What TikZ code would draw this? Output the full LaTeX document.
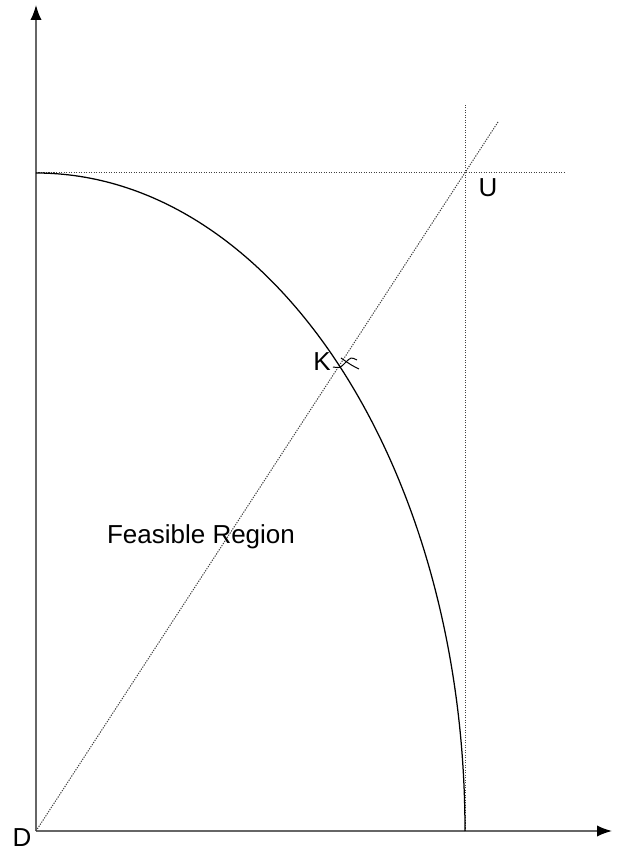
\documentclass[tikz,border=0pt]{standalone}
\usepackage{fontspec}
\setmainfont{Liberation Sans}
\usetikzlibrary{arrows.meta}

\begin{document}
\begin{tikzpicture}[x=0.4pt,y=0.4pt,
  axis/.style={gray!80!black,line width=0.6pt,-{Latex[black,length=6pt,width=4.5pt]}},
  guide/.style={black!75,line width=0.4pt,dash pattern=on 0.5pt off 0.5pt},
  lbl/.style={font=\fontsize{10.4}{12}\selectfont}]
  \useasboundingbox (-36,-18) rectangle (586,831);
  \coordinate (D) at (0,0);
  \coordinate (U) at (429,658);
  \coordinate (K) at (309,468);
  \coordinate (ytop) at (0,658);
  \coordinate (xend) at (429,0);
  % axes
  \draw[axis] (D) -- (0,826);
  \draw[axis] (D) -- (576,0);
  % dotted guides through U
  \draw[guide] (ytop) -- (529,658);
  \draw[guide] (xend) -- (429,726);
  \draw[guide] (D) -- (462,709);
  % the boundary curve
  \draw[line width=0.5pt] (ytop) arc[start angle=90,end angle=0,x radius=429,y radius=658];
  % small mark at K
  \draw[line width=0.4pt] ([shift={(-12,-4)}]K) .. controls ([shift={(-5,-5)}]K) .. (K)
    .. controls ([shift={(6,6)}]K) .. ([shift={(12,3)}]K);
  \draw[line width=0.4pt] ([shift={(-4,5)}]K) .. controls ([shift={(6,-2)}]K) .. ([shift={(14,-6)}]K);
  \node[lbl] (Klbl) at (286,469) {K};
  \node[lbl] (Ulbl) at (452,643) {U};
  \node[lbl] (Dlbl) at (-14,-7) {D};
  \node[lbl] (region) at (165,294) {Feasible Region};
\end{tikzpicture}
\end{document}
